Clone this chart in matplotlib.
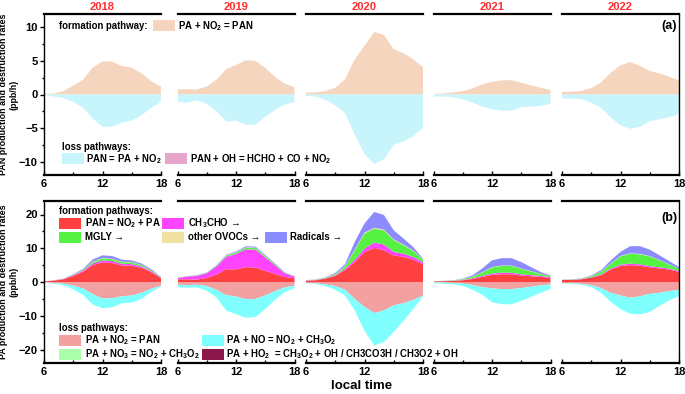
import numpy as np
import matplotlib
matplotlib.use('Agg')
import matplotlib.pyplot as plt
from matplotlib.patches import Rectangle
from matplotlib.ticker import MultipleLocator

matplotlib.rcParams['font.family'] = ['Liberation Sans', 'DejaVu Sans']
matplotlib.rcParams['font.weight'] = 'bold'
matplotlib.rcParams['axes.labelweight'] = 'bold'
matplotlib.rcParams['mathtext.fontset'] = 'custom'
matplotlib.rcParams['mathtext.rm'] = 'Liberation Sans:bold'
matplotlib.rcParams['mathtext.bf'] = 'Liberation Sans:bold'
matplotlib.rcParams['mathtext.default'] = 'bf'

W, H = 685, 394

hours = [6, 7, 8, 9, 10, 11, 12, 13, 14, 15, 16, 17, 18]
years = ['2018', '2019', '2020', '2021', '2022']

# (a) PAN budget, ppb/h
pan_form = [
    [0.1, 0.15, 0.5, 1.35, 2.2, 4.0, 4.95, 4.9, 4.25, 4.0, 3.15, 2.0, 1.15],
    [0.75, 0.8, 0.75, 1.2, 2.2, 3.8, 4.4, 5.1, 5.0, 4.0, 2.6, 1.6, 1.1],
    [0.3, 0.3, 0.5, 1.0, 2.25, 5.25, 7.25, 9.35, 8.85, 6.75, 6.15, 5.25, 4.1],
    [0.1, 0.15, 0.3, 0.5, 0.9, 1.5, 1.9, 2.1, 2.15, 1.75, 1.35, 1.0, 0.65],
    [0.4, 0.4, 0.55, 0.95, 1.8, 3.25, 4.35, 4.85, 4.25, 3.5, 3.15, 2.65, 2.1],
]
pan_decomp = [
    [0.1, 0.3, 0.5, 1.1, 1.9, 3.6, 4.8, 4.8, 4.2, 3.9, 3.1, 2.0, 1.1],
    [1.1, 1.2, 0.9, 1.4, 2.5, 4.0, 3.9, 4.5, 4.5, 3.3, 2.3, 1.5, 1.1],
    [0.2, 0.3, 0.8, 1.6, 2.75, 6.0, 8.85, 10.35, 9.65, 7.5, 7.0, 6.25, 5.0],
    [0.3, 0.3, 0.4, 0.7, 1.2, 1.8, 2.2, 2.4, 2.4, 1.9, 1.8, 1.7, 1.4],
    [0.6, 0.6, 0.7, 1.2, 2.0, 3.4, 4.6, 5.1, 4.8, 4.0, 3.7, 3.4, 2.9],
]
pan_oh = [[0.0] * 13 for _ in years]

# (b) PA budget, ppb/h
pa_from_pan = [
    [0.2, 0.4, 0.8, 1.8, 3.0, 5.0, 5.8, 5.6, 4.9, 4.8, 4.2, 2.9, 1.2],
    [0.8, 0.8, 0.7, 1.2, 2.2, 3.8, 3.7, 4.4, 4.3, 3.3, 2.4, 1.5, 1.1],
    [0.4, 0.5, 1.0, 1.8, 3.5, 5.9, 8.9, 10.1, 9.4, 7.9, 7.4, 6.6, 5.2],
    [0.2, 0.25, 0.3, 0.5, 0.9, 1.5, 2.1, 2.3, 2.3, 1.9, 1.7, 1.5, 1.2],
    [0.6, 0.6, 0.8, 1.3, 2.0, 3.7, 4.7, 5.0, 4.8, 4.3, 4.0, 3.7, 3.0],
]
pa_ch3cho = [
    [0.0, 0.05, 0.1, 0.2, 0.3, 0.5, 0.6, 0.6, 0.5, 0.5, 0.4, 0.3, 0.1],
    [0.4, 0.8, 1.1, 1.4, 2.4, 3.7, 4.6, 5.3, 5.3, 4.0, 2.6, 1.1, 0.5],
    [0.05, 0.1, 0.1, 0.2, 0.4, 0.7, 1.0, 1.6, 1.7, 1.0, 1.0, 0.8, 0.7],
    [0.02, 0.03, 0.05, 0.1, 0.2, 0.3, 0.4, 0.45, 0.45, 0.4, 0.35, 0.3, 0.2],
    [0.05, 0.05, 0.1, 0.1, 0.2, 0.3, 0.4, 0.45, 0.45, 0.4, 0.35, 0.3, 0.25],
]
pa_mgly = [
    [0.0, 0.02, 0.05, 0.1, 0.2, 0.5, 0.6, 0.6, 0.5, 0.5, 0.4, 0.3, 0.1],
    [0.05, 0.05, 0.1, 0.1, 0.2, 0.3, 0.4, 0.5, 0.5, 0.4, 0.3, 0.15, 0.1],
    [0.05, 0.1, 0.15, 0.3, 0.6, 2.8, 4.5, 4.1, 4.2, 3.5, 2.5, 1.8, 0.7],
    [0.02, 0.05, 0.1, 0.2, 0.4, 1.0, 1.8, 2.0, 2.0, 1.6, 1.1, 0.6, 0.3],
    [0.05, 0.05, 0.1, 0.3, 0.8, 1.4, 2.5, 2.95, 2.95, 2.9, 2.05, 1.2, 0.65],
]
pa_ovocs = [
    [0.0, 0.0, 0.02, 0.03, 0.05, 0.1, 0.1, 0.1, 0.1, 0.1, 0.08, 0.05, 0.02],
    [0.02, 0.02, 0.02, 0.03, 0.05, 0.08, 0.1, 0.1, 0.1, 0.08, 0.06, 0.04, 0.02],
    [0.02, 0.03, 0.05, 0.1, 0.15, 0.2, 0.25, 0.25, 0.25, 0.2, 0.2, 0.15, 0.1],
    [0.01, 0.02, 0.03, 0.05, 0.08, 0.1, 0.12, 0.12, 0.12, 0.1, 0.08, 0.06, 0.04],
    [0.02, 0.02, 0.03, 0.05, 0.08, 0.1, 0.12, 0.12, 0.12, 0.1, 0.1, 0.08, 0.05],
]
pa_radicals = [
    [0.0, 0.02, 0.05, 0.15, 0.3, 0.6, 0.8, 0.8, 0.6, 0.5, 0.4, 0.3, 0.1],
    [0.05, 0.05, 0.1, 0.1, 0.15, 0.2, 0.25, 0.3, 0.3, 0.25, 0.2, 0.1, 0.05],
    [0.02, 0.05, 0.1, 0.3, 0.6, 2.3, 2.7, 4.7, 4.3, 2.7, 1.8, 1.0, 0.2],
    [0.0, 0.02, 0.05, 0.15, 0.4, 1.1, 2.0, 2.2, 2.2, 1.9, 1.2, 0.5, 0.2],
    [0.0, 0.05, 0.05, 0.2, 0.4, 0.9, 1.2, 2.1, 2.3, 1.9, 1.4, 0.9, 0.5],
]
pa_to_pan = [
    [0.1, 0.3, 0.5, 1.1, 1.9, 3.6, 4.9, 4.8, 4.2, 4.0, 3.2, 2.0, 1.1],
    [0.8, 0.9, 0.8, 1.2, 2.3, 3.9, 4.3, 5.1, 5.0, 4.0, 2.7, 1.6, 1.1],
    [0.3, 0.4, 0.7, 1.2, 2.3, 5.0, 7.4, 9.2, 8.4, 6.9, 6.3, 5.3, 4.0],
    [0.1, 0.15, 0.3, 0.5, 0.9, 1.5, 1.9, 2.1, 2.1, 1.8, 1.4, 1.0, 0.7],
    [0.4, 0.4, 0.55, 0.95, 1.8, 3.2, 4.0, 4.65, 4.25, 3.5, 3.2, 2.7, 2.3],
]
pa_no = [
    [0.1, 0.2, 0.5, 1.1, 1.9, 3.1, 2.9, 2.7, 2.1, 2.1, 1.8, 1.0, 0.2],
    [0.7, 0.8, 0.8, 1.4, 2.3, 4.6, 5.2, 5.5, 5.4, 4.0, 2.6, 1.4, 0.7],
    [0.1, 0.2, 0.5, 1.1, 1.7, 3.4, 7.1, 9.6, 9.4, 7.9, 5.2, 2.7, 0.3],
    [0.3, 0.35, 0.4, 0.7, 1.4, 2.3, 4.1, 4.5, 4.5, 3.8, 3.0, 2.2, 1.4],
    [0.1, 0.2, 0.25, 0.55, 1.4, 2.7, 4.1, 4.75, 5.35, 5.4, 3.9, 2.7, 1.9],
]
pa_no3 = [[0.0] * 13 for _ in years]
pa_ho2 = [[0.0] * 13 for _ in years]

c_form_a = '#f5d5be'
c_loss_a = '#c8f4fb'
c_oh_a = '#e6a6cc'
c_b = ['#ff4040', '#ff44ff', '#55f244', '#f0e0a2', '#8c8cff']
c_lb = ['#f2a0a0', '#80ffff', '#aaffaa', '#8b1848']

panel_x = [44, 177.5, 306, 433.5, 562]
panel_w = 117


def px_box(x, ytop, ybot):
    return [x / W, 1 - ybot / H, panel_w / W, (ybot - ytop) / H]


def style_axis(ax, i, ymax, ymajor, yminor):
    ax.set_xlim(6, 18)
    ax.set_ylim(-ymax, ymax)
    for s in ['top', 'bottom']:
        ax.spines[s].set_linewidth(1.6)
    ax.spines['left'].set_linewidth(1.0)
    ax.spines['right'].set_linewidth(1.0)
    ax.spines['left'].set_visible(i == 0)
    ax.spines['right'].set_visible(i == 4)
    ax.xaxis.set_major_locator(MultipleLocator(6))
    ax.xaxis.set_minor_locator(MultipleLocator(3))
    ax.tick_params(axis='x', which='major', direction='in', length=3, width=1,
                   labelsize=8, pad=3)
    ax.tick_params(axis='x', which='minor', direction='in', length=2, width=1)
    ax.yaxis.set_major_locator(MultipleLocator(ymajor))
    ax.yaxis.set_minor_locator(MultipleLocator(yminor))
    if i == 0:
        ax.tick_params(axis='y', which='major', direction='out', length=3,
                       width=1, labelsize=8, pad=1.5)
        ax.tick_params(axis='y', which='minor', direction='out', length=1.5, width=1)
    else:
        ax.tick_params(axis='y', which='both', left=False, labelleft=False)
    for lab in ax.get_xticklabels() + ax.get_yticklabels():
        lab.set_fontweight('bold')
    ax.set_facecolor('none')


fig = plt.figure(figsize=(W / 100, H / 100), dpi=100)

for i, yr in enumerate(years):
    ax = fig.add_axes(px_box(panel_x[i], 14, 175))
    ax.stackplot(hours, pan_form[i], colors=[c_form_a], linewidth=0)
    ax.stackplot(hours, -np.array(pan_decomp[i]), -np.array(pan_oh[i]),
                 colors=[c_loss_a, c_oh_a], linewidth=0)
    style_axis(ax, i, 12, 5, 2.5)
    ax.set_title(yr, color='#ff2d2d', fontsize=8, fontweight='bold', pad=3)
    if i == 0:
        ax.set_ylabel('PAN production and destruction rates\n(ppb/h)',
                      fontsize=6.4, linespacing=1.3)
        ax.yaxis.set_label_coords(-0.215, 0.5)
    if i == 4:
        ax.text(0.985, 0.925, '(a)', transform=ax.transAxes, ha='right',
                va='center', fontsize=9, fontweight='bold')

    bx = fig.add_axes(px_box(panel_x[i], 201, 363))
    bx.stackplot(hours, pa_from_pan[i], pa_ch3cho[i], pa_mgly[i], pa_ovocs[i],
                 pa_radicals[i], colors=c_b, linewidth=0)
    bx.stackplot(hours, -np.array(pa_to_pan[i]), -np.array(pa_no[i]),
                 -np.array(pa_no3[i]), -np.array(pa_ho2[i]),
                 colors=c_lb, linewidth=0)
    style_axis(bx, i, 24, 10, 5)
    if i == 0:
        bx.set_ylabel('PA production and destruction rates\n(ppb/h)',
                      fontsize=6.4, linespacing=1.3)
        bx.yaxis.set_label_coords(-0.215, 0.5)
    if i == 4:
        bx.text(0.985, 0.895, '(b)', transform=bx.transAxes, ha='right',
                va='center', fontsize=9, fontweight='bold')


def key(x0, ytop, color):
    fig.add_artist(Rectangle((x0 / W, 1 - (ytop + 11) / H), 22 / W, 11 / H,
                             transform=fig.transFigure, facecolor=color,
                             edgecolor='none', zorder=5))


def label(x, yc, s, size=6.9):
    fig.text(x / W, 1 - yc / H, s, ha='left', va='center', fontsize=size,
             fontweight='bold', zorder=6)


# legend (a)
label(59, 26, 'formation pathway:')
key(153, 20, c_form_a)
label(178, 26, 'PA + NO$_2$ = PAN')
label(62, 147, 'loss pathways:')
key(62, 153, c_loss_a)
label(86, 159, 'PAN = PA + NO$_2$')
key(165, 153, c_oh_a)
label(190, 159, 'PAN + OH = HCHO + CO + NO$_2$')

# legend (b)
label(59, 211, 'formation pathways:')
key(59, 218, c_b[0])
label(85, 223.5, 'PAN = NO$_2$ + PA')
key(162, 218, c_b[1])
label(188, 223.5, 'CH$_3$CHO \u2192')
key(59, 232, c_b[2])
label(85, 237.5, 'MGLY \u2192')
key(162, 232, c_b[3])
label(188, 237.5, 'other OVOCs \u2192')
key(265, 232, c_b[4])
label(290, 237.5, 'Radicals \u2192')

label(59, 328, 'loss pathways:')
key(59, 335, c_lb[0])
label(85, 340.5, 'PA + NO$_2$ = PAN')
key(202, 335, c_lb[1])
label(226, 340.5, 'PA + NO = NO$_2$ + CH$_3$O$_2$')
key(59, 349, c_lb[2])
label(85, 354.5, 'PA + NO$_3$ = NO$_2$ + CH$_3$O$_2$')
key(202, 349, c_lb[3])
label(226, 354.5, 'PA + HO$_2$  = CH$_3$O$_2$ + OH / CH3CO3H / CH3O2 + OH')

fig.text(361.5 / W, 1 - 386 / H, 'local time', ha='center', va='center',
         fontsize=9.5, fontweight='bold')

fig.savefig('out.png', dpi=100)
